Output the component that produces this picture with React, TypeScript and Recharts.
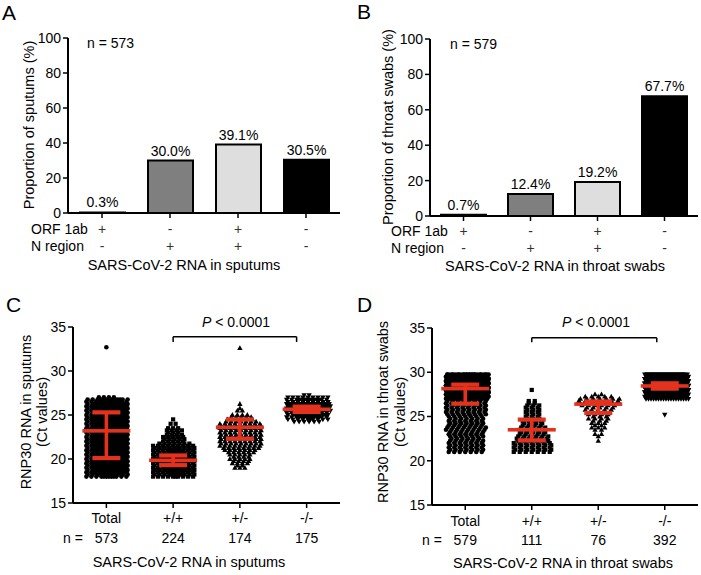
import React from "react";
import {
  BarChart,
  Bar,
  Cell,
  LabelList,
  XAxis,
  YAxis,
  ScatterChart,
  Scatter,
  ReferenceLine,
} from "recharts";

const FONT = '"Liberation Sans", Arial, Helvetica, sans-serif';
const RED = "#e3321e";

// panels A and B
const combos = ["+/-", "-/+", "+/+", "-/-"];
const orfSigns = ["+", "-", "+", "-"];
const nSigns = ["-", "+", "+", "-"];
const barFills = ["#ffffff", "#7f7f7f", "#dedede", "#000000"];
const sputumPct = [0.3, 30.0, 39.1, 30.5];
const throatPct = [0.7, 12.4, 19.2, 67.7];
const pctTicks = [0, 20, 40, 60, 80, 100];

// panels C and D
const groups = ["Total", "+/+", "+/-", "-/-"];
const sputumN = [573, 224, 174, 175];
const throatN = [579, 111, 76, 392];
const ctTicks = [15, 20, 25, 30, 35];

// dot plot rows: [Ct value, number of dots at that level]
const sputumTotal = [
  [18.0, 12], [18.25, 15], [18.5, 16], [18.75, 16], [19.0, 16], [19.25, 16], [19.5, 16], [19.75, 16],
  [20.0, 16], [20.25, 16], [20.5, 16], [20.75, 16], [21.0, 16], [21.25, 16], [21.5, 16], [21.75, 16],
  [22.0, 16], [22.25, 16], [22.5, 16], [22.75, 16], [23.0, 16], [23.25, 16], [23.5, 16], [23.75, 16],
  [24.0, 16], [24.25, 16], [24.5, 16], [24.75, 16], [25.0, 16], [25.25, 16], [25.5, 16], [25.75, 16],
  [26.0, 16], [26.25, 16], [26.5, 15], [26.75, 14], [27.0, 4], [32.7, 1],
];
const sputumDoublePos = [
  [18.0, 10], [18.25, 12], [18.5, 13], [18.75, 13], [19.0, 14], [19.25, 14], [19.5, 14], [19.75, 14],
  [20.0, 13], [20.25, 13], [20.5, 13], [20.75, 12], [21.0, 11], [21.25, 10], [21.5, 9], [21.75, 7],
  [22.0, 5], [22.25, 5], [22.5, 5], [22.75, 4], [23.0, 3], [23.25, 4], [23.5, 3], [24.0, 2], [24.5, 1],
];
const sputumOnePos = [
  [19.0, 3], [19.25, 2], [19.5, 4], [19.75, 4], [20.0, 5], [20.25, 4], [20.5, 5], [20.75, 6],
  [21.0, 7], [21.25, 8], [21.5, 9], [21.75, 9], [22.0, 9], [22.25, 9], [22.5, 9], [22.75, 9],
  [23.0, 9], [23.25, 9], [23.5, 9], [23.75, 9], [24.0, 9], [24.25, 7], [24.5, 6], [24.75, 5],
  [25.0, 4], [25.5, 2], [25.75, 1], [26.25, 1], [32.6, 1],
];
const sputumDoubleNeg = [
  [24.25, 6], [24.5, 10], [24.75, 14], [25.0, 16], [25.25, 15], [25.5, 18], [25.75, 18],
  [26.0, 18], [26.25, 18], [26.5, 17], [26.75, 14], [27.0, 9], [27.25, 2],
];

const throatTotal = [
  [21.0, 7], [21.25, 7], [21.5, 7], [21.75, 7], [22.0, 7], [22.25, 7], [22.5, 6], [22.75, 7],
  [23.0, 7], [23.25, 7], [23.5, 8], [23.75, 8], [24.0, 7], [24.25, 7], [24.5, 7], [24.75, 7],
  [25.0, 7], [25.25, 9], [25.5, 8], [25.75, 8], [26.0, 8], [26.25, 8], [26.5, 8], [26.75, 8],
  [27.0, 22], [27.25, 25], [27.5, 33], [27.75, 37], [28.0, 40], [28.25, 41], [28.5, 41],
  [28.75, 39], [29.0, 37], [29.25, 35], [29.5, 26], [29.75, 26],
];
const throatDoublePos = [
  [21.0, 7], [21.25, 7], [21.5, 7], [21.75, 7], [22.0, 7], [22.25, 6], [22.5, 6], [22.75, 6],
  [23.0, 5], [23.25, 5], [23.5, 5], [23.75, 5], [24.0, 4], [24.25, 4], [24.5, 4], [24.75, 3],
  [25.0, 3], [25.25, 3], [25.5, 3], [25.75, 3], [26.0, 3], [26.25, 3], [26.5, 2], [26.75, 2], [28.0, 1],
];
const throatOnePos = [
  [22.25, 1], [22.75, 1], [23.0, 2], [23.5, 2], [23.75, 3], [24.0, 2], [24.25, 3], [24.5, 3],
  [24.75, 4], [25.0, 3], [25.25, 4], [25.5, 4], [25.75, 5], [26.0, 5], [26.25, 6], [26.5, 7],
  [26.75, 7], [27.0, 7], [27.25, 5], [27.5, 2],
];
const throatDoubleNeg = [
  [25.2, 1], [27.0, 18], [27.25, 22], [27.5, 30], [27.75, 37], [28.0, 39], [28.25, 41],
  [28.5, 41], [28.75, 39], [29.0, 37], [29.25, 35], [29.5, 26], [29.75, 26],
];

// red bars: [median, lower, upper]
const sputumStats = [[23.2, 20.1, 25.3], [19.85, 19.3, 20.4], [23.6, 22.3, 24.5], [25.65, 25.35, 25.95]];
const throatStats = [[28.15, 26.45, 28.6], [23.5, 22.3, 24.65], [26.4, 25.4, 26.7], [28.45, 28.15, 28.75]];

// P bracket: [from group, to group, Ct of bar, Ct of tick ends]
const sputumBracket = [1, 2.85, 33.9, 33.3];
const throatBracket = [1, 2.88, 33.9, 33.4];

type Dot = { x: number; y: number; dx: number };

// spread the dots of each row sideways like a prism dot plot
const swarm = (rows: number[][], group: number, perRow: number, gap: number): Dot[] => {
  const dots: Dot[] = [];
  rows.forEach(([ct, count], r) => {
    for (let k = 0; k < count; k++) {
      const layer = Math.floor(k / perRow);
      const inLayer = Math.min(perRow, count - layer * perRow);
      const j = k % perRow;
      const shift = count > 2 ? (layer % 2 ? gap / 2 : 0) + (r % 2 ? gap / 4 : 0) : 0;
      dots.push({ x: group, y: ct, dx: (j - (inLayer - 1) / 2) * gap + shift });
    }
  });
  return dots;
};

const marker = (kind: string) => (p: any) => {
  const { cx, cy, payload } = p;
  if (cx == null || cy == null) return <g />;
  const x = cx + (payload?.dx ?? 0);
  if (kind === "circle") return <circle cx={x} cy={cy} r={2.3} fill="#000" />;
  if (kind === "square") return <rect x={x - 2.1} y={cy - 2.1} width={4.2} height={4.2} fill="#000" />;
  if (kind === "up")
    return <polygon points={`${x},${cy - 2.9} ${x - 2.7},${cy + 1.9} ${x + 2.7},${cy + 1.9}`} fill="#000" />;
  return <polygon points={`${x},${cy + 2.9} ${x - 2.7},${cy - 1.9} ${x + 2.7},${cy - 1.9}`} fill="#000" />;
};

const noShape = () => <g />;
const medianShape = (p: any) =>
  p.cx == null ? <g /> : <rect x={p.cx - 24} y={p.cy - 1.8} width={48} height={3.6} fill={RED} />;
const capShape = (p: any) =>
  p.cx == null ? <g /> : <rect x={p.cx - 14} y={p.cy - 2.1} width={28} height={4.2} fill={RED} />;

const axisLine = { stroke: "#000", strokeWidth: 2 };
const tickLine = { stroke: "#000", strokeWidth: 1.5 };
const tickText = { fill: "#000", fontSize: 14, fontFamily: FONT };

type BarPanelProps = {
  values: number[];
  left: number;
  yWidth: number;
  margin: { top: number; right: number; bottom: number; left: number };
  dy: [number, number];
};

const BarPanel = ({ values, left, yWidth, margin, dy }: BarPanelProps) => {
  const data = combos.map((c, i) => ({ combo: c, v: values[i] }));
  const SignTick = (p: any) => {
    const i = p.index ?? combos.indexOf(p.payload?.value);
    return (
      <g>
        <text x={p.x} y={p.y + dy[0]} textAnchor="middle" fontSize={14} fill="#333" fontFamily={FONT}>
          {orfSigns[i]}
        </text>
        <text x={p.x} y={p.y + dy[1]} textAnchor="middle" fontSize={14} fill="#333" fontFamily={FONT}>
          {nSigns[i]}
        </text>
      </g>
    );
  };
  return (
    <div style={{ position: "absolute", left, top: 0 }}>
      <BarChart width={350} height={290} data={data} margin={margin}>
        <XAxis
          dataKey="combo"
          height={40}
          interval={0}
          axisLine={axisLine}
          tickLine={tickLine}
          tickSize={5}
          tick={SignTick}
        />
        <YAxis
          width={yWidth}
          domain={[0, 100]}
          ticks={pctTicks}
          axisLine={axisLine}
          tickLine={tickLine}
          tickSize={5}
          tick={tickText}
        />
        <Bar dataKey="v" barSize={45} stroke="#000" strokeWidth={2} isAnimationActive={false}>
          {data.map((d, i) => (
            <Cell key={d.combo} fill={barFills[i]} />
          ))}
          <LabelList
            dataKey="v"
            position="top"
            formatter={(v: any) => `${Number(v).toFixed(1)}%`}
            fill="#000"
            fontSize={14}
            fontFamily={FONT}
          />
        </Bar>
      </BarChart>
    </div>
  );
};

type DotPanelProps = {
  rows: number[][][];
  layout: [number, number][];
  stats: number[][];
  counts: number[];
  bracket: number[];
  left: number;
  yWidth: number;
  margin: { top: number; right: number; bottom: number; left: number };
  dy: [number, number];
};

const kinds = ["circle", "square", "up", "down"];

const DotPanel = ({ rows, layout, stats, counts, bracket, left, yWidth, margin, dy }: DotPanelProps) => {
  const dots = rows.map((r, i) => swarm(r, i, layout[i][0], layout[i][1]));
  const medians = stats.map(([m], i) => ({ x: i, y: m }));
  const whiskers = stats.map(([, lo, hi], i) => [
    { x: i, y: lo },
    { x: i, y: hi },
  ]);
  const caps = whiskers.flat();
  const [b0, b1, by, bt] = bracket;
  const GroupTick = (p: any) => {
    const i = Math.round(p.payload?.value ?? 0);
    return (
      <g>
        <text x={p.x} y={p.y + dy[0]} textAnchor="middle" fontSize={14} fill="#000" fontFamily={FONT}>
          {groups[i]}
        </text>
        <text x={p.x} y={p.y + dy[1]} textAnchor="middle" fontSize={14} fill="#000" fontFamily={FONT}>
          {counts[i]}
        </text>
      </g>
    );
  };
  return (
    <div style={{ position: "absolute", left, top: 290 }}>
      <ScatterChart width={350} height={285} margin={margin}>
        <XAxis
          type="number"
          dataKey="x"
          domain={[-0.5, 3.5]}
          ticks={[0, 1, 2, 3]}
          height={40}
          axisLine={axisLine}
          tickLine={tickLine}
          tickSize={5}
          tick={GroupTick}
        />
        <YAxis
          type="number"
          dataKey="y"
          domain={[15, 35]}
          ticks={ctTicks}
          width={yWidth}
          axisLine={axisLine}
          tickLine={tickLine}
          tickSize={5}
          tick={tickText}
        />
        {dots.map((d, i) => (
          <Scatter key={groups[i]} data={d} shape={marker(kinds[i])} isAnimationActive={false} />
        ))}
        {whiskers.map((w, i) => (
          <Scatter
            key={`w${i}`}
            data={w}
            shape={noShape}
            line={{ stroke: RED, strokeWidth: 3.6 }}
            isAnimationActive={false}
          />
        ))}
        <Scatter data={medians} shape={medianShape} isAnimationActive={false} />
        <Scatter data={caps} shape={capShape} isAnimationActive={false} />
        <ReferenceLine segment={[{ x: b0, y: by }, { x: b1, y: by }]} stroke="#000" strokeWidth={1.5} ifOverflow="visible" />
        <ReferenceLine segment={[{ x: b0, y: by }, { x: b0, y: bt }]} stroke="#000" strokeWidth={1.5} ifOverflow="visible" />
        <ReferenceLine segment={[{ x: b1, y: by }, { x: b1, y: bt }]} stroke="#000" strokeWidth={1.5} ifOverflow="visible" />
      </ScatterChart>
    </div>
  );
};

const Rot = ({ x, y, children }: { x: number; y: number; children: React.ReactNode }) => (
  <text transform={`translate(${x},${y}) rotate(-90)`} textAnchor="middle" fontSize={14.5}>
    {children}
  </text>
);

const PText = ({ x, y }: { x: number; y: number }) => (
  <text x={x} y={y} textAnchor="middle" fontSize={14}>
    <tspan fontStyle="italic">P</tspan> {"< 0.0001"}
  </text>
);

export default function App() {
  return (
    <div style={{ position: "relative", width: 701, height: 575, background: "#fff", fontFamily: FONT, overflow: "hidden" }}>
      <style>{"body{margin:0}"}</style>
      <BarPanel values={sputumPct} left={0} yWidth={68} margin={{ top: 38, right: 10, bottom: 37, left: 0 }} dy={[14, 31]} />
      <BarPanel values={throatPct} left={350} yWidth={80} margin={{ top: 39, right: 2, bottom: 34, left: 0 }} dy={[13, 30]} />
      <DotPanel
        rows={[sputumTotal, sputumDoublePos, sputumOnePos, sputumDoubleNeg]}
        layout={[[9, 5], [9, 5], [9, 5], [9, 5]]}
        stats={sputumStats}
        counts={sputumN}
        bracket={sputumBracket}
        left={0}
        yWidth={73}
        margin={{ top: 37, right: 10, bottom: 32, left: 0 }}
        dy={[13, 33]}
      />
      <DotPanel
        rows={[throatTotal, throatDoublePos, throatOnePos, throatDoubleNeg]}
        layout={[[8, 5.5], [7, 6], [7, 6.5], [9, 5]]}
        stats={throatStats}
        counts={throatN}
        bracket={throatBracket}
        left={350}
        yWidth={82}
        margin={{ top: 38, right: 2, bottom: 30, left: 0 }}
        dy={[14, 33]}
      />
      <svg width={701} height={575} style={{ position: "absolute", left: 0, top: 0, pointerEvents: "none" }} fontFamily={FONT} fill="#000">
        <text x={2} y={20} fontSize={21}>A</text>
        <text x={357} y={19} fontSize={21}>B</text>
        <text x={6} y={312} fontSize={21}>C</text>
        <text x={357} y={312} fontSize={21}>D</text>

        <text x={87} y={48} fontSize={14}>n = 573</text>
        <text x={450} y={49} fontSize={14}>n = 579</text>

        <Rot x={34} y={125}>Proportion of sputums (%)</Rot>
        <Rot x={393} y={127}>Proportion of throat swabs (%)</Rot>
        <Rot x={31} y={412}>RNP30 RNA in sputums</Rot>
        <Rot x={47} y={412}>(Ct values)</Rot>
        <Rot x={388} y={412}>RNP30 RNA in throat swabs</Rot>
        <Rot x={405} y={412}>(Ct values)</Rot>

        <text x={31} y={234} fontSize={14}>ORF 1ab</text>
        <text x={31} y={251} fontSize={14}>N region</text>
        <text x={391} y={236} fontSize={14}>ORF 1ab</text>
        <text x={391} y={253} fontSize={14}>N region</text>

        <text x={184} y={270} fontSize={14.5} textAnchor="middle">SARS-CoV-2 RNA in sputums</text>
        <text x={555} y={271} fontSize={14.5} textAnchor="middle">SARS-CoV-2 RNA in throat swabs</text>

        <text x={63} y={543} fontSize={14}>n =</text>
        <text x={422} y={545} fontSize={14}>n =</text>
        <text x={189} y={567} fontSize={14.5} textAnchor="middle">SARS-CoV-2 RNA in sputums</text>
        <text x={563} y={568} fontSize={14.5} textAnchor="middle">SARS-CoV-2 RNA in throat swabs</text>

        <PText x={236} y={327} />
        <PText x={596} y={327} />
      </svg>
    </div>
  );
}
